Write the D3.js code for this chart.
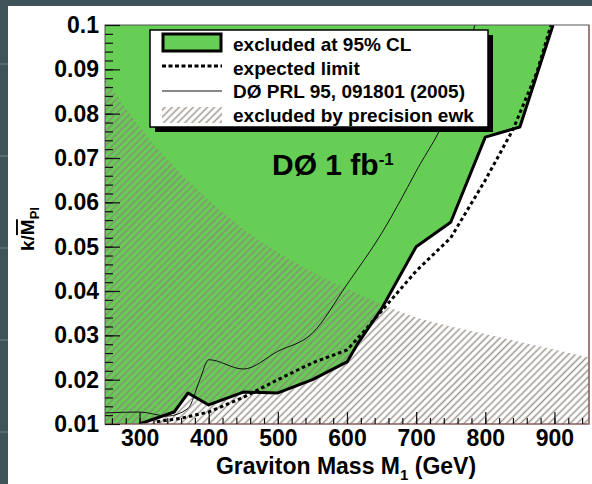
<!DOCTYPE html>
<html>
<head>
<meta charset="utf-8">
<script src="https://cdn.jsdelivr.net/npm/d3@7"></script>
<style>
    body { margin: 0; background: #3f5359; }
    text { font-family: "Liberation Sans", Arial, Helvetica, sans-serif; font-weight: bold; fill: #000; }
</style>
</head>
<body>
<div id="visualisation"></div>
<script>
// observed 95% CL limit (thick line), edge of green region
var obsMass = [300, 350, 370, 400, 450, 500, 550, 600, 615, 650, 700, 750, 800, 850, 898];
var obsK = [0.010, 0.0127, 0.017, 0.0143, 0.0172, 0.0170, 0.020, 0.024, 0.028, 0.036, 0.050, 0.0555, 0.0747, 0.077, 0.100];

// expected limit (dotted)
var expMass = [325, 360, 400, 450, 500, 550, 600, 625, 650, 700, 750, 800, 840, 875, 895];
var expK = [0.0105, 0.0113, 0.0127, 0.016, 0.020, 0.0238, 0.0267, 0.031, 0.0355, 0.0445, 0.052, 0.065, 0.0764, 0.0895, 0.100];

// D0 PRL 95, 091801 (2005) (thin line)
var prlMass = [250, 300, 340, 370, 387, 400, 450, 500, 550, 600, 650, 700, 750, 785];
var prlK = [0.0125, 0.0127, 0.0118, 0.0135, 0.0199, 0.0245, 0.0224, 0.0264, 0.0305, 0.0415, 0.053, 0.067, 0.082, 0.100];

// precision electroweak boundary (hatched below)
var ewkMass = [250, 300, 350, 400, 450, 500, 550, 600, 650, 700, 750, 800, 850, 900, 950];
var ewkK = [0.088, 0.077, 0.068, 0.0605, 0.054, 0.0487, 0.0443, 0.0405, 0.037, 0.034, 0.032, 0.0303, 0.0285, 0.0268, 0.0250];

var xMajor = [300, 400, 500, 600, 700, 800, 900];
var xMinor = d3.range(260, 950, 20);
var yMajor = [0.01, 0.02, 0.03, 0.04, 0.05, 0.06, 0.07, 0.08, 0.09, 0.1];
var yLabels = ["0.01", "0.02", "0.03", "0.04", "0.05", "0.06", "0.07", "0.08", "0.09", "0.1"];
var yMinor = d3.range(0.012, 0.1, 0.002);

var legendLabels = ["excluded at 95% CL", "expected limit", "DØ PRL 95, 091801 (2005)", "excluded by precision ewk"];

var width = 592;
var height = 484;
var pLeft = 105, pRight = 589, pTop = 25, pBottom = 424;

var green = "#66cd55";

function pts(ms, ks) {
    return ms.map(function (m, i) { return { m: m, k: ks[i] }; });
}

var observed = pts(obsMass, obsK);
var expected = pts(expMass, expK);
var prl = pts(prlMass, prlK);
var ewk = pts(ewkMass, ewkK);

var xScale = d3.scaleLinear()
    .domain([250, 950])
    .range([pLeft, pRight]);

var yScale = d3.scaleLinear()
    .domain([0.01, 0.1])
    .range([pBottom, pTop]);

var svg = d3.select("#visualisation")
    .append("svg")
        .attr("width", width)
        .attr("height", height);

// slide background + white panel
svg.append("rect")
    .attr("width", width).attr("height", height)
    .attr("fill", "#3f5359");
svg.selectAll(".bgline")
    .data([64, 156, 248, 340, 432])
    .enter().append("line")
        .attr("x1", 0).attr("x2", width)
        .attr("y1", function (d) { return d; }).attr("y2", function (d) { return d; })
        .attr("stroke", "#566a70").attr("stroke-width", 2);
svg.append("rect")
    .attr("x", 8).attr("y", 6)
    .attr("width", width - 8).attr("height", height - 6)
    .attr("fill", "#fff");

var defs = svg.append("defs");

defs.append("clipPath").attr("id", "plotclip")
    .append("rect")
        .attr("x", pLeft).attr("y", pTop)
        .attr("width", pRight - pLeft).attr("height", pBottom - pTop);

var hatch = defs.append("pattern")
    .attr("id", "hatch")
    .attr("patternUnits", "userSpaceOnUse")
    .attr("width", 5).attr("height", 5)
    .attr("patternTransform", "rotate(45)");
hatch.append("line")
    .attr("x1", 2.5).attr("y1", 0).attr("x2", 2.5).attr("y2", 5)
    .attr("stroke", "rgba(140,130,122,0.85)")
    .attr("stroke-width", 1.5);

var plot = svg.append("g").attr("clip-path", "url(#plotclip)");

// green excluded region: everything above the observed limit
var greenArea = d3.area()
    .x(function (d) { return xScale(d.m); })
    .y0(yScale(0.1))
    .y1(function (d) { return yScale(d.k); });

plot.append("path")
    .datum([{ m: 250, k: 0.01 }].concat(observed))
    .attr("d", greenArea)
    .attr("fill", green);

var ewkArea = d3.area()
    .x(function (d) { return xScale(d.m); })
    .y0(yScale(0.01))
    .y1(function (d) { return yScale(d.k); })
    .curve(d3.curveMonotoneX);

plot.append("path")
    .datum(ewk)
    .attr("d", ewkArea)
    .attr("fill", "url(#hatch)");

var smoothLine = d3.line()
    .x(function (d) { return xScale(d.m); })
    .y(function (d) { return yScale(d.k); })
    .curve(d3.curveMonotoneX);

var straightLine = d3.line()
    .x(function (d) { return xScale(d.m); })
    .y(function (d) { return yScale(d.k); });

plot.append("path")
    .datum(prl)
    .attr("d", smoothLine)
    .attr("fill", "none")
    .attr("stroke", "#111")
    .attr("stroke-width", 1);

plot.append("path")
    .datum(expected)
    .attr("d", straightLine)
    .attr("fill", "none")
    .attr("stroke", "#000")
    .attr("stroke-width", 3)
    .attr("stroke-dasharray", "3.5,3");

plot.append("path")
    .datum(observed)
    .attr("d", straightLine)
    .attr("fill", "none")
    .attr("stroke", "#000")
    .attr("stroke-width", 3)
    .attr("stroke-linejoin", "round");

// frame
svg.append("rect")
    .attr("x", pLeft).attr("y", pTop)
    .attr("width", pRight - pLeft).attr("height", pBottom - pTop)
    .attr("fill", "none")
    .attr("stroke", "#555")
    .attr("stroke-width", 1);
svg.append("path")
    .attr("d", "M" + pLeft + "," + pBottom + "H" + pRight + "V" + pTop)
    .attr("fill", "none")
    .attr("stroke", "#a06060")
    .attr("stroke-width", 1.2);

// ticks
function tickAxis(axis, tx, ty, values, size) {
    var g = svg.append("g")
        .attr("transform", "translate(" + tx + "," + ty + ")")
        .call(axis.tickValues(values).tickSize(size).tickFormat(""));
    g.select(".domain").remove();
    g.selectAll("line").attr("stroke", "#111").attr("stroke-width", 1.2);
    return g;
}

tickAxis(d3.axisRight(yScale), pLeft, 0, yMajor, 15);
tickAxis(d3.axisRight(yScale), pLeft, 0, yMinor, 8);
tickAxis(d3.axisTop(xScale), 0, pBottom, xMajor, 12);
tickAxis(d3.axisTop(xScale), 0, pBottom, xMinor, 6);

var yLab = svg.append("g")
    .attr("transform", "translate(" + pLeft + ",0)")
    .call(d3.axisLeft(yScale)
        .tickValues(yMajor)
        .tickSize(0)
        .tickPadding(6)
        .tickFormat(function (d, i) { return yLabels[i]; }));
yLab.select(".domain").remove();
yLab.selectAll("text").style("font-size", "23px").attr("fill", "#000");

var xLab = svg.append("g")
    .attr("transform", "translate(0," + pBottom + ")")
    .call(d3.axisBottom(xScale)
        .tickValues(xMajor)
        .tickSize(0)
        .tickPadding(6));
xLab.select(".domain").remove();
xLab.selectAll("text").style("font-size", "23px").attr("fill", "#000");

// axis titles
var xt = svg.append("text")
    .attr("x", 346).attr("y", 474)
    .attr("text-anchor", "middle")
    .style("font-size", "23px");
xt.append("tspan").text("Graviton Mass M");
xt.append("tspan").attr("dy", 6).style("font-size", "15px").text("1");
xt.append("tspan").attr("dy", -6).text(" (GeV)");

var yt = svg.append("text")
    .attr("transform", "translate(34,229)rotate(-90)")
    .attr("text-anchor", "middle")
    .style("font-size", "19px");
yt.append("tspan").text("k/");
yt.append("tspan").style("text-decoration", "overline").text("M");
yt.append("tspan").attr("dy", 5).style("font-size", "13px").text("Pl");

var lumi = svg.append("text")
    .attr("x", 272).attr("y", 175)
    .style("font-size", "30px");
lumi.append("tspan").text("DØ 1 fb");
lumi.append("tspan").attr("dy", -10).style("font-size", "17px").text("-1");

// legend
var lg = svg.append("g");
lg.append("rect")
    .attr("x", 155).attr("y", 35).attr("width", 338).attr("height", 97)
    .attr("fill", "#000");
lg.append("rect")
    .attr("x", 150).attr("y", 30).attr("width", 338).attr("height", 97)
    .attr("fill", "#fff")
    .attr("stroke", "#000")
    .attr("stroke-width", 1.5);

lg.append("rect")
    .attr("x", 163).attr("y", 34).attr("width", 58).attr("height", 17)
    .attr("fill", green)
    .attr("stroke", "#000")
    .attr("stroke-width", 3);
lg.append("line")
    .attr("x1", 162).attr("x2", 222).attr("y1", 66).attr("y2", 66)
    .attr("stroke", "#000").attr("stroke-width", 3)
    .attr("stroke-dasharray", "4,2.5");
lg.append("line")
    .attr("x1", 162).attr("x2", 222).attr("y1", 91).attr("y2", 91)
    .attr("stroke", "#111").attr("stroke-width", 1);
lg.append("rect")
    .attr("x", 162).attr("y", 107).attr("width", 60).attr("height", 16)
    .attr("fill", "url(#hatch)");

lg.selectAll(".legend")
    .data(legendLabels)
    .enter().append("text")
        .attr("class", "legend")
        .attr("x", 233)
        .attr("y", function (d, i) { return 51 + i * 23.5; })
        .style("font-size", "19px")
        .text(function (d) { return d; });
</script>
</body>
</html>
